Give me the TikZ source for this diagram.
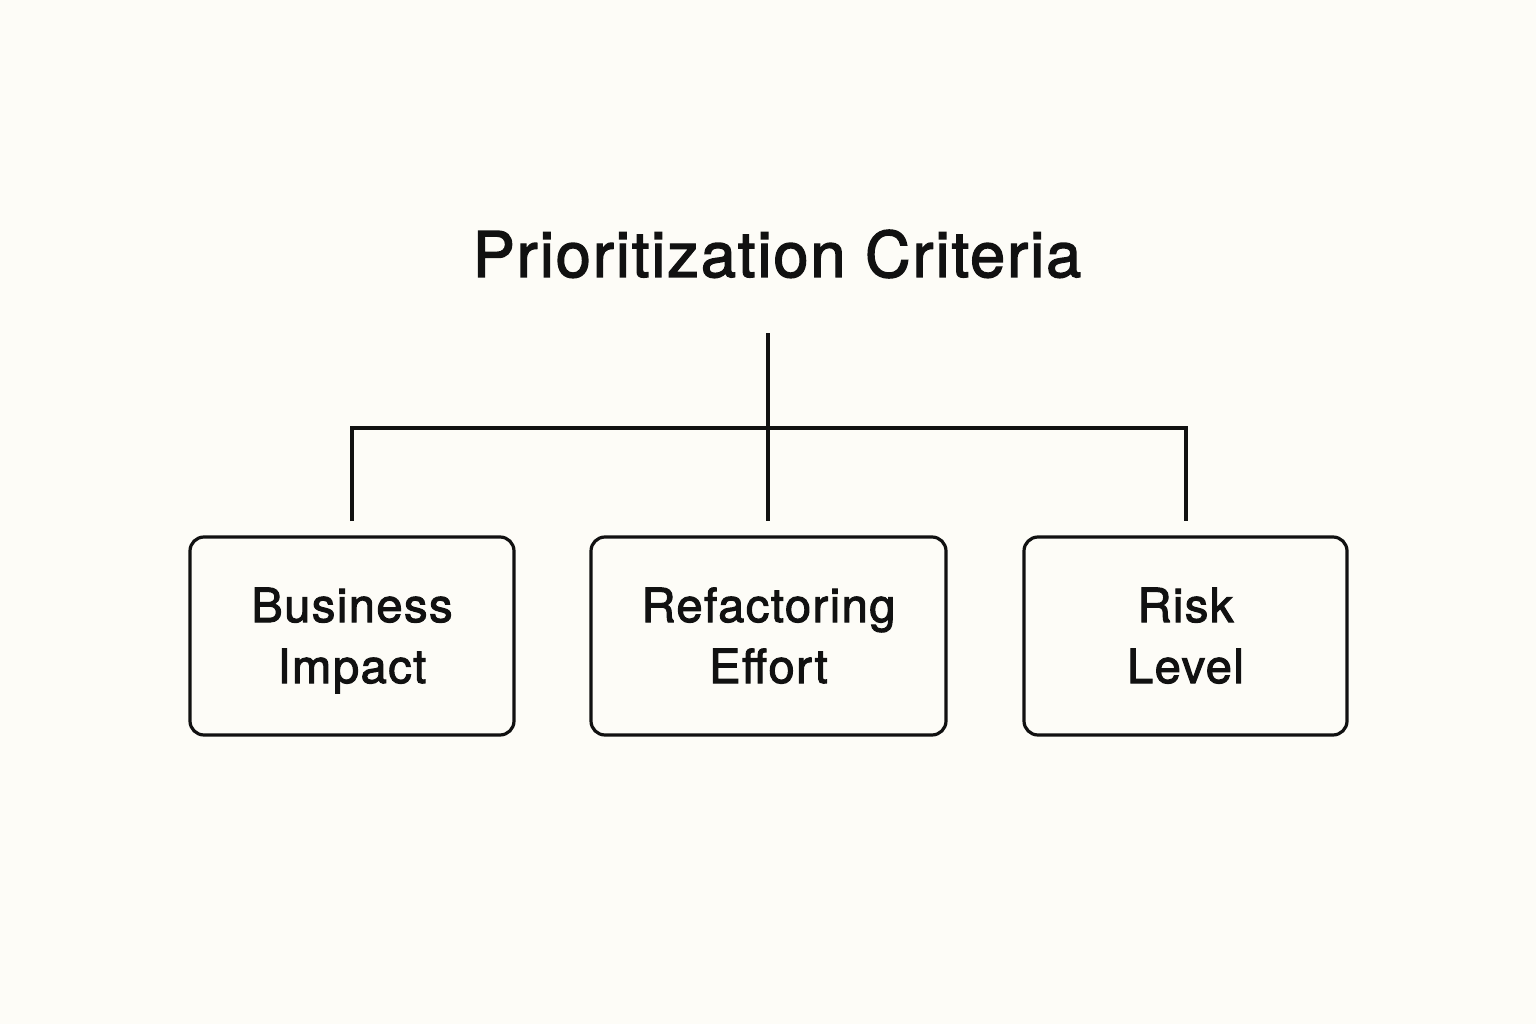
\documentclass[tikz,border=0pt]{standalone}
\usepackage{fontspec}
\setmainfont{TeX Gyre Heros}[FakeBold=2.2,LetterSpace=3.2]
\definecolor{bg}{HTML}{FDFCF7}
\definecolor{ink}{HTML}{111111}
\newcommand\boxstrut{\rule[-14pt]{0pt}{61pt}}
\begin{document}
\begin{tikzpicture}[x=1pt,y=-1pt,
  box/.style={draw=ink,line width=3.2pt,rounded corners=14pt,inner sep=0pt,align=center,font=\fontsize{47}{61}\selectfont,text=ink},
  conn/.style={draw=ink,line width=3.2pt}]
\fill[bg] (0,0) rectangle (1536,1024);
\useasboundingbox (0,0) rectangle (1536,1024);
\node[text=ink,font=\fontsize{63}{70}\selectfont] (title) at (777,254) {Prioritization Criteria};
\node[box,minimum width=324pt,minimum height=198pt] (b1) at (352,636) {Business\boxstrut\\Impact\boxstrut};
\node[box,minimum width=355pt,minimum height=198pt] (b2) at (768.5,636) {Refactoring\boxstrut\\Effort\boxstrut};
\node[box,minimum width=323pt,minimum height=198pt] (b3) at (1185.5,636) {Risk\boxstrut\\Level\boxstrut};
\coordinate (top) at (768,333);
\coordinate (hl) at (352,428);
\coordinate (hr) at (1186,428);
\coordinate (e1) at (352,521);
\coordinate (e2) at (768,521);
\coordinate (e3) at (1186,521);
\draw[conn] (top) -- (e2);
\draw[conn] (e1) -- (hl) -- (hr) -- (e3);
\end{tikzpicture}
\end{document}
